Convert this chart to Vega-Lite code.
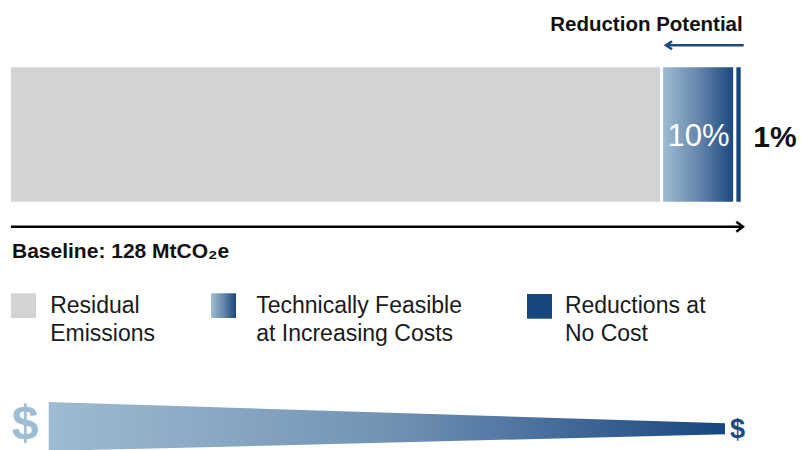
{
  "$schema": "https://vega.github.io/schema/vega-lite/v6.json",
  "width": 801,
  "height": 450,
  "padding": 0,
  "autosize": {"type": "none"},
  "background": "white",
  "config": {"view": {"stroke": null}, "font": "Liberation Sans"},
  "datasets": {
    "segments": [
      {"category": "Residual Emissions", "legend": "Residual\nEmissions", "start": 0, "end": 89, "share": "89%"},
      {"category": "Technically Feasible at Increasing Costs", "legend": "Technically Feasible\nat Increasing Costs", "start": 89, "end": 99, "share": "10%"},
      {"category": "Reductions at No Cost", "legend": "Reductions at\nNo Cost", "start": 99, "end": 100, "share": "1%"}
    ],
    "notes": [
      {"note": "Reduction Potential"},
      {"note": "Baseline: 128 MtCO₂e"}
    ],
    "cost": [
      {"position": 5.35, "upper": 402, "lower": 451},
      {"position": 97.65, "upper": 423.3, "lower": 434.3}
    ]
  },
  "layer": [
    {
      "data": {"name": "segments"},
      "transform": [{"filter": "datum.category == 'Residual Emissions'"}],
      "mark": {"type": "rect", "fill": "#d1d3d4", "stroke": "white", "strokeWidth": 3},
      "encoding": {
        "x": {"field": "start", "type": "quantitative", "scale": {"domain": [-1.2966, 108.025], "nice": false, "zero": false}, "axis": null},
        "x2": {"field": "end"},
        "y": {"datum": 65.8, "type": "quantitative", "scale": {"domain": [0, 450], "reverse": true, "nice": false, "zero": false}, "axis": null},
        "y2": {"datum": 203.2}
      }
    },
    {
      "data": {"name": "segments"},
      "transform": [{"filter": "datum.category == 'Technically Feasible at Increasing Costs'"}],
      "mark": {"type": "rect", "stroke": "white", "strokeWidth": 3,
        "fill": {"gradient": "linear", "x1": 0, "y1": 0, "x2": 1, "y2": 0, "stops": [{"offset": 0, "color": "#9fbed3"}, {"offset": 0.5, "color": "#6686ab"}, {"offset": 1, "color": "#17467f"}]}},
      "encoding": {
        "x": {"field": "start", "type": "quantitative", "scale": {"domain": [-1.2966, 108.025], "nice": false, "zero": false}, "axis": null},
        "x2": {"field": "end"},
        "y": {"datum": 65.8, "type": "quantitative", "scale": {"domain": [0, 450], "reverse": true, "nice": false, "zero": false}, "axis": null},
        "y2": {"datum": 203.2}
      }
    },
    {
      "data": {"name": "segments"},
      "transform": [{"filter": "datum.category == 'Reductions at No Cost'"}],
      "mark": {"type": "rect", "fill": "#17467f", "stroke": "white", "strokeWidth": 3},
      "encoding": {
        "x": {"field": "start", "type": "quantitative", "scale": {"domain": [-1.2966, 108.025], "nice": false, "zero": false}, "axis": null},
        "x2": {"field": "end"},
        "y": {"datum": 65.8, "type": "quantitative", "scale": {"domain": [0, 450], "reverse": true, "nice": false, "zero": false}, "axis": null},
        "y2": {"datum": 203.2}
      }
    },
    {
      "data": {"name": "segments"},
      "transform": [{"filter": "datum.category == 'Technically Feasible at Increasing Costs'"}],
      "mark": {"type": "text", "align": "center", "baseline": "alphabetic", "dx": 37, "fontSize": 31, "color": "white", "font": "Liberation Sans"},
      "encoding": {
        "x": {"field": "start", "type": "quantitative", "scale": {"domain": [-1.2966, 108.025], "nice": false, "zero": false}, "axis": null},
        "y": {"datum": 146, "type": "quantitative", "scale": {"domain": [0, 450], "reverse": true, "nice": false, "zero": false}, "axis": null},
        "text": {"field": "share"}
      }
    },
    {
      "data": {"name": "segments"},
      "transform": [{"filter": "datum.category == 'Reductions at No Cost'"}],
      "mark": {"type": "text", "align": "left", "baseline": "alphabetic", "dx": 11, "fontSize": 30, "fontWeight": "bold", "color": "#111111", "font": "Liberation Sans"},
      "encoding": {
        "x": {"field": "end", "type": "quantitative", "scale": {"domain": [-1.2966, 108.025], "nice": false, "zero": false}, "axis": null},
        "y": {"datum": 146.8, "type": "quantitative", "scale": {"domain": [0, 450], "reverse": true, "nice": false, "zero": false}, "axis": null},
        "text": {"field": "share"}
      }
    },
    {
      "data": {"name": "notes"},
      "transform": [{"filter": "datum.note == 'Reduction Potential'"}],
      "mark": {"type": "text", "align": "right", "baseline": "alphabetic", "dx": 0.5, "fontSize": 20.5, "fontWeight": "bold", "color": "#111111", "font": "Liberation Sans"},
      "encoding": {
        "x": {"datum": 100, "type": "quantitative", "scale": {"domain": [-1.2966, 108.025], "nice": false, "zero": false}, "axis": null},
        "y": {"datum": 31, "type": "quantitative", "scale": {"domain": [0, 450], "reverse": true, "nice": false, "zero": false}, "axis": null},
        "text": {"field": "note"}
      }
    },
    {
      "data": {"name": "notes"},
      "transform": [{"filter": "datum.note == 'Reduction Potential'"}],
      "mark": {"type": "rule", "color": "#1e4a84", "strokeWidth": 2.5},
      "encoding": {
        "x": {"datum": 89.6, "type": "quantitative", "scale": {"domain": [-1.2966, 108.025], "nice": false, "zero": false}, "axis": null},
        "x2": {"datum": 100.2},
        "y": {"datum": 45.3, "type": "quantitative", "scale": {"domain": [0, 450], "reverse": true, "nice": false, "zero": false}, "axis": null}
      }
    },
    {
      "data": {"name": "notes"},
      "transform": [{"filter": "datum.note == 'Reduction Potential'"}],
      "mark": {"type": "point", "shape": "M1.5,-1L0,0L1.5,1", "size": 64, "filled": false, "color": "#1e4a84", "strokeWidth": 2.5, "opacity": 1},
      "encoding": {
        "x": {"datum": 89.6, "type": "quantitative", "scale": {"domain": [-1.2966, 108.025], "nice": false, "zero": false}, "axis": null},
        "y": {"datum": 45.3, "type": "quantitative", "scale": {"domain": [0, 450], "reverse": true, "nice": false, "zero": false}, "axis": null}
      }
    },
    {
      "data": {"name": "notes"},
      "transform": [{"filter": "datum.note != 'Reduction Potential'"}],
      "mark": {"type": "rule", "color": "#000000", "strokeWidth": 2.5},
      "encoding": {
        "x": {"datum": 0.2, "type": "quantitative", "scale": {"domain": [-1.2966, 108.025], "nice": false, "zero": false}, "axis": null},
        "x2": {"datum": 100.1},
        "y": {"datum": 226.8, "type": "quantitative", "scale": {"domain": [0, 450], "reverse": true, "nice": false, "zero": false}, "axis": null}
      }
    },
    {
      "data": {"name": "notes"},
      "transform": [{"filter": "datum.note != 'Reduction Potential'"}],
      "mark": {"type": "point", "shape": "M-1.32,-1L0,0L-1.32,1", "size": 100, "filled": false, "color": "#000000", "strokeWidth": 2.5, "opacity": 1},
      "encoding": {
        "x": {"datum": 100.1, "type": "quantitative", "scale": {"domain": [-1.2966, 108.025], "nice": false, "zero": false}, "axis": null},
        "y": {"datum": 226.8, "type": "quantitative", "scale": {"domain": [0, 450], "reverse": true, "nice": false, "zero": false}, "axis": null}
      }
    },
    {
      "data": {"name": "notes"},
      "transform": [{"filter": "datum.note != 'Reduction Potential'"}],
      "mark": {"type": "text", "align": "left", "baseline": "alphabetic", "dx": 2.5, "fontSize": 21, "fontWeight": "bold", "color": "#111111", "font": "Liberation Sans"},
      "encoding": {
        "x": {"datum": 0, "type": "quantitative", "scale": {"domain": [-1.2966, 108.025], "nice": false, "zero": false}, "axis": null},
        "y": {"datum": 258, "type": "quantitative", "scale": {"domain": [0, 450], "reverse": true, "nice": false, "zero": false}, "axis": null},
        "text": {"field": "note"}
      }
    },
    {
      "data": {"name": "segments"},
      "transform": [{"filter": "datum.category == 'Residual Emissions'"}],
      "mark": {"type": "rect", "fill": "#d1d3d4"},
      "encoding": {
        "x": {"datum": 0.205, "type": "quantitative", "scale": {"domain": [-1.2966, 108.025], "nice": false, "zero": false}, "axis": null},
        "x2": {"datum": 3.617},
        "y": {"datum": 293.3, "type": "quantitative", "scale": {"domain": [0, 450], "reverse": true, "nice": false, "zero": false}, "axis": null},
        "y2": {"datum": 318}
      }
    },
    {
      "data": {"name": "segments"},
      "transform": [{"filter": "datum.category == 'Technically Feasible at Increasing Costs'"}],
      "mark": {"type": "rect",
        "fill": {"gradient": "linear", "x1": 0, "y1": 0, "x2": 1, "y2": 0, "stops": [{"offset": 0, "color": "#9fbed3"}, {"offset": 0.5, "color": "#6686ab"}, {"offset": 1, "color": "#17467f"}]}},
      "encoding": {
        "x": {"datum": 27.5, "type": "quantitative", "scale": {"domain": [-1.2966, 108.025], "nice": false, "zero": false}, "axis": null},
        "x2": {"datum": 30.91},
        "y": {"datum": 293.3, "type": "quantitative", "scale": {"domain": [0, 450], "reverse": true, "nice": false, "zero": false}, "axis": null},
        "y2": {"datum": 318}
      }
    },
    {
      "data": {"name": "segments"},
      "transform": [{"filter": "datum.category == 'Reductions at No Cost'"}],
      "mark": {"type": "rect", "fill": "#17467f"},
      "encoding": {
        "x": {"datum": 70.63, "type": "quantitative", "scale": {"domain": [-1.2966, 108.025], "nice": false, "zero": false}, "axis": null},
        "x2": {"datum": 74.04},
        "y": {"datum": 294, "type": "quantitative", "scale": {"domain": [0, 450], "reverse": true, "nice": false, "zero": false}, "axis": null},
        "y2": {"datum": 318.7}
      }
    },
    {
      "data": {"name": "segments"},
      "transform": [{"filter": "datum.category == 'Residual Emissions'"}],
      "mark": {"type": "text", "align": "left", "baseline": "alphabetic", "lineBreak": "\n", "lineHeight": 28, "fontSize": 23, "color": "#1a1a1a", "font": "Liberation Sans"},
      "encoding": {
        "x": {"datum": 5.555, "type": "quantitative", "scale": {"domain": [-1.2966, 108.025], "nice": false, "zero": false}, "axis": null},
        "y": {"datum": 313.3, "type": "quantitative", "scale": {"domain": [0, 450], "reverse": true, "nice": false, "zero": false}, "axis": null},
        "text": {"field": "legend"}
      }
    },
    {
      "data": {"name": "segments"},
      "transform": [{"filter": "datum.category == 'Technically Feasible at Increasing Costs'"}],
      "mark": {"type": "text", "align": "left", "baseline": "alphabetic", "lineBreak": "\n", "lineHeight": 28, "fontSize": 23, "color": "#1a1a1a", "font": "Liberation Sans"},
      "encoding": {
        "x": {"datum": 33.67, "type": "quantitative", "scale": {"domain": [-1.2966, 108.025], "nice": false, "zero": false}, "axis": null},
        "y": {"datum": 313.3, "type": "quantitative", "scale": {"domain": [0, 450], "reverse": true, "nice": false, "zero": false}, "axis": null},
        "text": {"field": "legend"}
      }
    },
    {
      "data": {"name": "segments"},
      "transform": [{"filter": "datum.category == 'Reductions at No Cost'"}],
      "mark": {"type": "text", "align": "left", "baseline": "alphabetic", "lineBreak": "\n", "lineHeight": 28, "fontSize": 23, "color": "#1a1a1a", "font": "Liberation Sans"},
      "encoding": {
        "x": {"datum": 75.8, "type": "quantitative", "scale": {"domain": [-1.2966, 108.025], "nice": false, "zero": false}, "axis": null},
        "y": {"datum": 313.3, "type": "quantitative", "scale": {"domain": [0, 450], "reverse": true, "nice": false, "zero": false}, "axis": null},
        "text": {"field": "legend"}
      }
    },
    {
      "data": {"name": "cost"},
      "mark": {"type": "area", "interpolate": "linear",
        "fill": {"gradient": "linear", "x1": 0, "y1": 0, "x2": 1, "y2": 0, "stops": [{"offset": 0, "color": "#9dbcd2"}, {"offset": 0.5, "color": "#7393b5"}, {"offset": 1, "color": "#17467f"}]}},
      "encoding": {
        "x": {"field": "position", "type": "quantitative", "scale": {"domain": [-1.2966, 108.025], "nice": false, "zero": false}, "axis": null},
        "y": {"field": "upper", "type": "quantitative", "scale": {"domain": [0, 450], "reverse": true, "nice": false, "zero": false}, "axis": null},
        "y2": {"field": "lower"}
      }
    },
    {
      "data": {"name": "cost"},
      "transform": [{"filter": "datum.position < 50"}],
      "mark": {"type": "text", "text": "$", "align": "center", "baseline": "alphabetic", "fontSize": 48, "fontWeight": "bold", "color": "#9dbdd3", "font": "Liberation Sans"},
      "encoding": {
        "x": {"datum": 2.115, "type": "quantitative", "scale": {"domain": [-1.2966, 108.025], "nice": false, "zero": false}, "axis": null},
        "y": {"datum": 439, "type": "quantitative", "scale": {"domain": [0, 450], "reverse": true, "nice": false, "zero": false}, "axis": null}
      }
    },
    {
      "data": {"name": "cost"},
      "transform": [{"filter": "datum.position > 50"}],
      "mark": {"type": "text", "text": "$", "align": "center", "baseline": "alphabetic", "fontSize": 27, "fontWeight": "bold", "color": "#1a4a80", "font": "Liberation Sans"},
      "encoding": {
        "x": {"datum": 99.36, "type": "quantitative", "scale": {"domain": [-1.2966, 108.025], "nice": false, "zero": false}, "axis": null},
        "y": {"datum": 437.5, "type": "quantitative", "scale": {"domain": [0, 450], "reverse": true, "nice": false, "zero": false}, "axis": null}
      }
    }
  ]
}
